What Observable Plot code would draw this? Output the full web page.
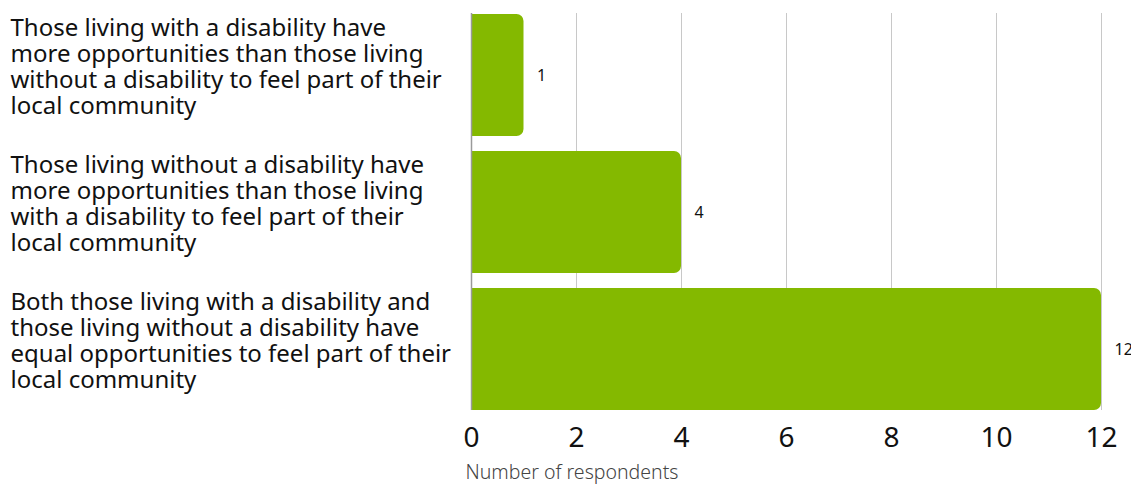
<!DOCTYPE html>
<html>
<head>
<meta charset="utf-8">
<script src="https://cdn.jsdelivr.net/npm/d3@7"></script>
<script src="https://cdn.jsdelivr.net/npm/@observablehq/plot@0.6"></script>
<style>
  html, body { margin: 0; padding: 0; background: #fff; }
  #chart { width: 1131px; height: 486px; }
  #chart svg { overflow: visible; }
</style>
</head>
<body>
<div id="chart"></div>
<script>
const categories = [
  "Those living with a disability have\nmore opportunities than those living\nwithout a disability to feel part of their\nlocal community",
  "Those living without a disability have\nmore opportunities than those living\nwith a disability to feel part of their\nlocal community",
  "Both those living with a disability and\nthose living without a disability have\nequal opportunities to feel part of their\nlocal community"
];
const values = [1, 4, 12];
const xTicks = [0, 2, 4, 6, 8, 10, 12];
const xLabel = "Number of respondents";

const data = categories.map((c, i) => ({category: c, value: values[i]}));
const FONT = "'Noto Sans', sans-serif";

const plot = Plot.plot({
  width: 1131,
  height: 486,
  marginLeft: 471,
  marginRight: 30,
  marginTop: 13,
  marginBottom: 76,
  style: {fontFamily: FONT, background: "#fff", color: "#111", overflow: "visible"},
  x: {domain: [0, 12], ticks: xTicks, label: null},
  y: {domain: categories, paddingInner: 0.113, paddingOuter: 0, label: null},
  marks: [
    Plot.gridX(xTicks, {stroke: "#c8c8c8", strokeOpacity: 1, strokeWidth: 1}),
    Plot.barX(data, {x: "value", y: "category", fill: "#84b900", rx2: 7}),
    Plot.ruleX([0], {stroke: "#9a9a9a", strokeWidth: 1.5}),
    Plot.text(data, {x: "value", y: "category", text: d => String(d.value), textAnchor: "start", dx: 13, fontSize: 16, fill: "#111"}),
    Plot.axisY({tickSize: 0, tickPadding: 0, textAnchor: "start", dx: -461, dy: -9, fontSize: 24, lineHeight: 1.08, label: null, fill: "#111"}),
    Plot.axisX(xTicks, {tickSize: 0, tickPadding: 17, fontSize: 28, label: null, fill: "#111"}),
    Plot.text([xLabel], {frameAnchor: "bottom-left", dx: -6, dy: 68, lineAnchor: "bottom", fontSize: 19.5, fontWeight: 300, fill: "#444"})
  ]
});
document.getElementById("chart").appendChild(plot);
</script>
</body>
</html>
